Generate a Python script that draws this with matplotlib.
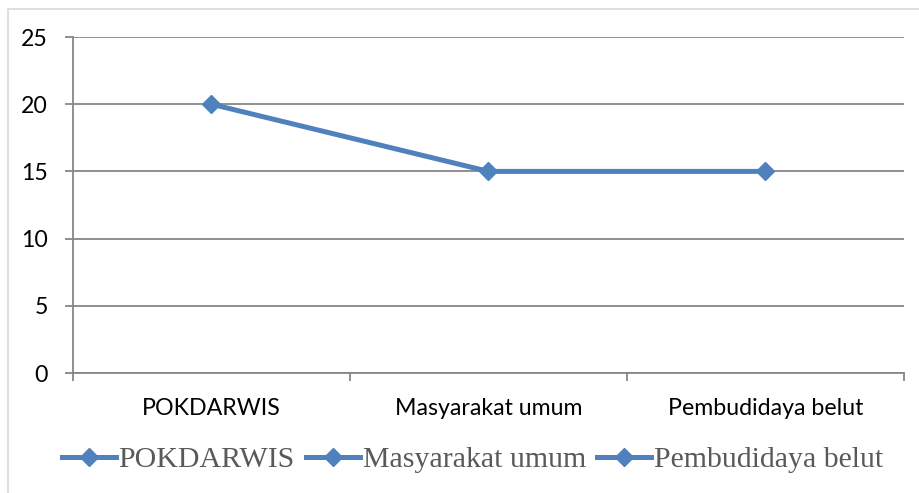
import matplotlib
matplotlib.use("Agg")
import matplotlib.pyplot as plt
from matplotlib.patches import Rectangle

categories = ["POKDARWIS", "Masyarakat umum", "Pembudidaya belut"]
values = [20, 15, 15]
y_ticks = [0, 5, 10, 15, 20, 25]

line_color = "#4F81BD"
grid_color = "#878787"

fig = plt.figure(figsize=(9.19, 4.93), dpi=100)
ax = fig.add_axes([73 / 919, 120 / 493, 831 / 919, 336 / 493])

x = [i + 0.5 for i in range(len(categories))]
ax.plot(x, values, color=line_color, linewidth=3.6, marker="D",
        markersize=9.5, markerfacecolor=line_color, markeredgecolor=line_color,
        solid_capstyle="round", zorder=3)

ax.set_xlim(0, len(categories))
ax.set_ylim(0, 25)
ax.set_yticks(y_ticks)
ax.set_yticklabels([str(t) for t in y_ticks], fontsize=16.7, family="Lato")
ax.yaxis.grid(True, color=grid_color, linewidth=1.3)
ax.set_axisbelow(True)

# category boundaries get the ticks, labels sit in the middle
ax.set_xticks(range(len(categories) + 1))
ax.set_xticklabels([])
ax.set_xticks(x, minor=True)
ax.set_xticklabels(categories, minor=True, fontsize=16.7, family="Lato")
ax.tick_params(axis="x", which="major", length=6, width=1.3, color=grid_color, direction="out")
ax.tick_params(axis="x", which="minor", length=0, pad=18)
ax.tick_params(axis="y", length=6, width=1.3, color=grid_color, pad=12)

for side in ["top", "right"]:
    ax.spines[side].set_visible(False)
ax.spines["left"].set_color(grid_color)
ax.spines["left"].set_linewidth(1.3)
ax.spines["bottom"].set_color(grid_color)
ax.spines["bottom"].set_linewidth(1.3)

# legend: one entry per category, all drawn with the same series style
handles = [plt.Line2D([], [], color=line_color, linewidth=3.6, marker="D",
                      markersize=9.5, markerfacecolor=line_color,
                      markeredgecolor=line_color) for _ in categories]
leg = fig.legend(handles, categories, loc="center", bbox_to_anchor=(0.514, 0.067),
                 ncol=3, frameon=False, handlelength=1.8, handletextpad=0.1,
                 columnspacing=0.37, prop={"family": "Liberation Serif", "size": 21.5})
for t in leg.get_texts():
    t.set_color("#595959")

# light chart-area border (top and left visible in the crop)
fig.patches.append(Rectangle((8 / 919, -0.1), 1.2, (484 / 493) + 0.1,
                             transform=fig.transFigure, fill=False,
                             edgecolor="#D9D9D9", linewidth=1.2))

fig.savefig("out.png", dpi=100)
